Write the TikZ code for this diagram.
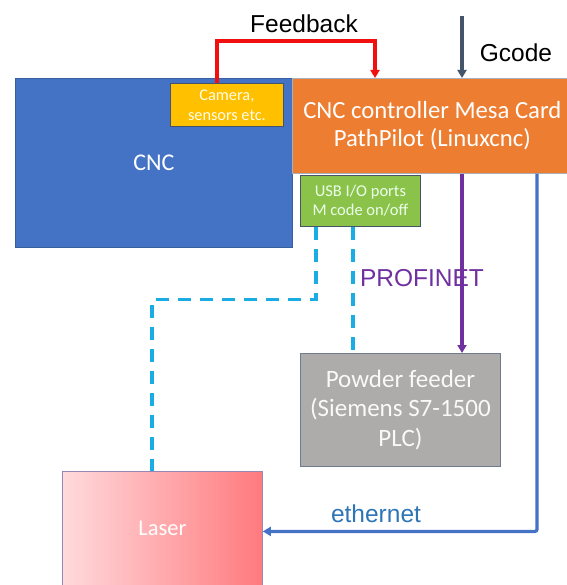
\documentclass[tikz,border=0pt]{standalone}
\usepackage{fontspec}
\setmainfont{Carlito}
\newfontfamily\labelfont{Liberation Sans}
\usetikzlibrary{arrows.meta}
\definecolor{cncblue}{HTML}{4472C4}
\definecolor{cncedge}{HTML}{3A5F9E}
\definecolor{ctrlorange}{HTML}{ED7D31}
\definecolor{camyellow}{HTML}{FFC000}
\definecolor{usbgreen}{HTML}{8BC34A}
\definecolor{plcgray}{HTML}{AEABAB}
\definecolor{plcedge}{HTML}{6F7C8E}
\definecolor{laserlight}{HTML}{FFDADC}
\definecolor{laserdark}{HTML}{FF7A7E}
\definecolor{laseredge}{HTML}{9A86B4}
\definecolor{fbred}{HTML}{F01010}
\definecolor{gslate}{HTML}{44546A}
\definecolor{pnpurple}{HTML}{7030A0}
\definecolor{ethblue}{HTML}{4472C4}
\definecolor{ethtext}{HTML}{2E75B6}
\definecolor{iodash}{HTML}{1AADE4}
\begin{document}
\begin{tikzpicture}[x=1pt,y=-1pt,
  box/.style={rectangle,anchor=north west,inner sep=0pt,align=center,text=white},
  wire/.style={line width=3.2pt},
  tip/.style={-{Triangle[width=9pt,length=8pt]}},
  iolink/.style={line width=3.2pt,color=iodash,dash pattern=on 13pt off 9pt},
  lbl/.style={font=\labelfont\fontsize{24.5}{28}\selectfont}]
\useasboundingbox (0,0) rectangle (566,585);

% machine blocks
\node[box,fill=cncblue,draw=cncedge,line width=0.8pt,minimum width=277pt,minimum height=169pt,
  font=\fontsize{24}{28}\selectfont] (cnc) at (15,78) {CNC};
\node[box,fill=camyellow,draw=gslate,line width=0.8pt,minimum width=113pt,minimum height=43pt,
  text=white!92!yellow,font=\fontsize{16.3}{20}\selectfont] (cam) at (170,83) {Camera,\\sensors etc.};
\node[box,fill=ctrlorange,draw=plcedge!60,line width=0.6pt,minimum width=280pt,minimum height=95pt,
  font=\fontsize{24.7}{28.5}\selectfont] (ctrl) at (292,78) {CNC controller Mesa Card\\PathPilot (Linuxcnc)};
\node[box,fill=usbgreen,draw=gslate,line width=0.8pt,minimum width=120pt,minimum height=51pt,
  text=white!92!green,font=\fontsize{16.5}{19}\selectfont] (usb) at (300,175) {USB I/O ports\\M code on/off};
\node[box,fill=plcgray,draw=plcedge,line width=0.8pt,minimum width=200pt,minimum height=113pt,
  text=white!95!gray,font=\fontsize{25}{29.5}\selectfont] (plc) at (300,353) {Powder feeder\\(Siemens S7-1500\\PLC)};
\node[box,left color=laserlight,right color=laserdark,draw=laseredge,line width=0.8pt,
  minimum width=200pt,minimum height=120pt,font=\fontsize{22.5}{26}\selectfont] (laser) at (62,471) {\raisebox{6pt}{Laser}};

% labels
\node[lbl,text=black] (fbl) at (304,24) {Feedback};
\node[lbl,text=black] (gcl) at (516,53) {Gcode};
\node[lbl,text=pnpurple] (pnl) at (422,278) {PROFINET};
\node[lbl,text=ethtext] (etl) at (376,514) {ethernet};

% feedback loop from the sensors into the controller
\draw[wire,fbred,tip] ([xshift=47pt]cam.north west) -- ++(0,-42) -| ([xshift=83pt]ctrl.north west);

% G-code input
\coordinate (gin) at (462,16);
\draw[wire,gslate,tip] (gin) -- (gin |- ctrl.north);

% PROFINET to the powder feeder
\draw[wire,pnpurple,tip] ([xshift=170pt]ctrl.south west) -- ([xshift=162pt]plc.north west);

% ethernet to the laser
\draw[wire,ethblue,tip,rounded corners=2pt] ([xshift=245pt]ctrl.south west) |- (laser.east);

% USB I/O lines
\draw[iolink] ([xshift=16pt]usb.south west) -- ++(0,73) -| ([xshift=90pt]laser.north west);
\draw[iolink] ([xshift=53pt]usb.south west) -- ([xshift=53pt]plc.north west);
\end{tikzpicture}
\end{document}
